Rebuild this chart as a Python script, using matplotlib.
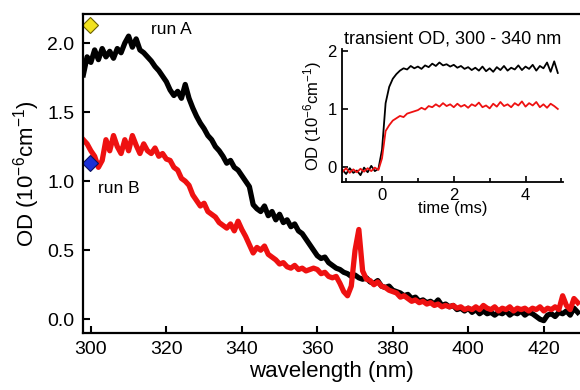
import numpy as np
import matplotlib.pyplot as plt
from matplotlib.ticker import MultipleLocator

plt.rcParams['font.family'] = ['Liberation Sans', 'DejaVu Sans']
plt.rcParams['mathtext.fontset'] = 'custom'
plt.rcParams['mathtext.rm'] = 'Liberation Sans'
plt.rcParams['mathtext.default'] = 'regular'

# spectra, 1 nm steps
wavelength = np.arange(298, 430)
run_a = [1.77, 1.90, 1.86, 1.95, 1.88, 1.96, 1.90, 1.94, 1.89, 1.96,
         1.93, 2.00, 2.05, 1.97, 2.03, 1.95, 1.93, 1.90, 1.87, 1.83,
         1.80, 1.76, 1.72, 1.66, 1.62, 1.65, 1.60, 1.70, 1.60, 1.53,
         1.47, 1.42, 1.38, 1.33, 1.30, 1.25, 1.22, 1.18, 1.13, 1.15,
         1.10, 1.08, 1.04, 1.00, 0.96, 0.83, 0.80, 0.78, 0.82, 0.75,
         0.78, 0.72, 0.76, 0.70, 0.72, 0.67, 0.69, 0.64, 0.62, 0.58,
         0.54, 0.50, 0.46, 0.44, 0.45, 0.41, 0.39, 0.37, 0.36, 0.34,
         0.33, 0.31, 0.32, 0.30, 0.29, 0.30, 0.27, 0.26, 0.28, 0.24,
         0.23, 0.24, 0.21, 0.20, 0.19, 0.17, 0.18, 0.15, 0.16, 0.13,
         0.14, 0.12, 0.13, 0.11, 0.14, 0.10, 0.11, 0.09, 0.10, 0.07,
         0.08, 0.06, 0.08, 0.05, 0.07, 0.04, 0.06, 0.04, 0.05, 0.03,
         0.05, 0.04, 0.06, 0.03, 0.05, 0.04, 0.06, 0.03, 0.05, 0.04,
         0.02, 0.00, -0.01, 0.03, 0.04, 0.02, 0.05, 0.04, 0.06, 0.03,
         0.08, 0.05]
run_b = [1.30, 1.27, 1.22, 1.18, 1.10, 1.15, 1.30, 1.22, 1.33, 1.25,
         1.20, 1.30, 1.22, 1.33, 1.26, 1.20, 1.27, 1.22, 1.20, 1.24,
         1.18, 1.20, 1.16, 1.15, 1.10, 1.08, 1.02, 1.00, 0.97, 0.90,
         0.86, 0.82, 0.84, 0.78, 0.76, 0.74, 0.70, 0.68, 0.66, 0.69,
         0.64, 0.71, 0.65, 0.60, 0.54, 0.48, 0.52, 0.50, 0.53, 0.47,
         0.45, 0.43, 0.40, 0.41, 0.38, 0.37, 0.39, 0.36, 0.37, 0.35,
         0.36, 0.37, 0.36, 0.33, 0.34, 0.31, 0.30, 0.31, 0.26, 0.20,
         0.17, 0.24, 0.50, 0.65, 0.35, 0.29, 0.28, 0.25, 0.27, 0.24,
         0.23, 0.21, 0.20, 0.19, 0.16, 0.17, 0.15, 0.13, 0.14, 0.12,
         0.13, 0.11, 0.12, 0.10, 0.11, 0.09, 0.10, 0.09, 0.10, 0.08,
         0.09, 0.07, 0.08, 0.07, 0.09, 0.07, 0.10, 0.08, 0.07, 0.09,
         0.06, 0.08, 0.07, 0.09, 0.06, 0.08, 0.07, 0.08, 0.06, 0.08,
         0.07, 0.09, 0.06, 0.08, 0.07, 0.09, 0.07, 0.17, 0.10, 0.07,
         0.15, 0.12]

# markers at the left edge
marker_a = (299.8, 2.13)
marker_b = (299.8, 1.13)

# inset transients, 0.1 ms steps
time_ms = np.round(np.arange(-1.1, 4.95, 0.1), 2)
trans_a = [-0.05, -0.12, -0.02, -0.10, -0.06, -0.14, -0.01, -0.09, 0.02, -0.07,
           -0.03, 0.30, 1.10, 1.38, 1.52, 1.60, 1.66, 1.70, 1.68, 1.74,
           1.70, 1.73, 1.69, 1.75, 1.72, 1.78, 1.74, 1.80, 1.75, 1.77,
           1.73, 1.76, 1.71, 1.74, 1.69, 1.72, 1.67, 1.71, 1.66, 1.73,
           1.65, 1.70, 1.64, 1.72, 1.67, 1.74, 1.66, 1.71, 1.68, 1.75,
           1.67, 1.73, 1.69, 1.76, 1.66, 1.74, 1.70, 1.80, 1.64, 1.82,
           1.62]
trans_b = [-0.08, -0.02, -0.10, -0.04, -0.09, -0.03, -0.08, -0.02, -0.07, -0.01,
           -0.05, 0.15, 0.62, 0.72, 0.80, 0.84, 0.88, 0.86, 0.92, 0.94,
           0.96, 0.98, 1.02, 0.99, 1.05, 1.03, 1.08, 1.04, 1.10, 1.05,
           1.08, 1.03, 1.09, 1.04, 1.07, 1.02, 1.08, 1.05, 1.11, 1.03,
           1.06, 1.01, 1.09, 1.04, 1.12, 1.05, 1.08, 1.03, 1.10, 1.06,
           1.13, 1.04, 1.10, 1.06, 1.12, 1.03, 1.08, 1.02, 1.09, 1.05,
           1.00]

fig = plt.figure(figsize=(5.8, 3.9), dpi=100)
ax = fig.add_axes([0.143, 0.146, 0.857, 0.818])
ax.plot(wavelength, run_a, color='black', lw=3.8)
ax.plot(wavelength, run_b, color='#ee1111', lw=3.8)
ax.plot(*marker_a, marker='D', ms=8, color='#f2e21e', mec='#6b6100', mew=0.8)
ax.plot(*marker_b, marker='D', ms=8, color='#1a2fd6', mec='#0a1160', mew=0.8)
ax.text(316, 2.10, 'run A', fontsize=12.5, va='center')
ax.text(302, 0.95, 'run B', fontsize=12.5, va='center')

ax.set_xlim(297.9, 429.6)
ax.set_ylim(-0.10, 2.21)
ax.xaxis.set_major_locator(MultipleLocator(20))
ax.yaxis.set_major_locator(MultipleLocator(0.5))
ax.yaxis.set_major_formatter(plt.FormatStrFormatter('%.1f'))
ax.tick_params(direction='in', length=5, width=1.5, labelsize=14, pad=6)
for s in ['left', 'bottom', 'top']:
    ax.spines[s].set_linewidth(1.6)
ax.spines['right'].set_visible(False)
ax.set_xlabel('wavelength (nm)', fontsize=16, labelpad=2)
ax.set_ylabel('OD (10$^{-6}$cm$^{-1}$)', fontsize=16, labelpad=4)

ins = fig.add_axes([0.590, 0.533, 0.381, 0.341])
ins.plot(time_ms, trans_a, color='black', lw=1.3)
ins.plot(time_ms, trans_b, color='#ee1111', lw=1.3)
ins.set_xlim(-1.11, 5.05)
ins.set_ylim(-0.26, 2.03)
ins.xaxis.set_major_locator(MultipleLocator(2))
ins.xaxis.set_minor_locator(MultipleLocator(1))
ins.yaxis.set_major_locator(MultipleLocator(1))
ins.tick_params(which='both', direction='in', labelsize=12, width=1.2, pad=4)
ins.tick_params(which='major', length=4)
ins.tick_params(which='minor', length=3)
ins.spines['top'].set_visible(False)
ins.spines['right'].set_visible(False)
for s in ['left', 'bottom']:
    ins.spines[s].set_linewidth(1.3)
ins.set_title('transient OD, 300 - 340 nm', fontsize=13, pad=4)
ins.set_xlabel('time (ms)', fontsize=12, labelpad=-1)
ins.set_ylabel('OD (10$^{-6}$cm$^{-1}$)', fontsize=12, labelpad=2)

plt.savefig('out.png', dpi=100)
